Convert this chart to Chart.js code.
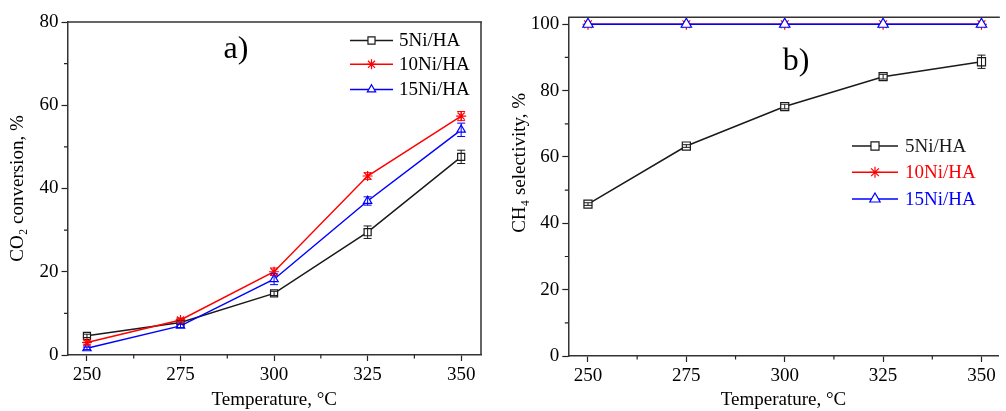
<!DOCTYPE html>
<html><head><meta charset="utf-8">
<script src="https://cdn.jsdelivr.net/npm/chart.js@4.4.1/dist/chart.umd.min.js"></script>
<style>
html,body{margin:0;padding:0;background:#fff;width:1006px;height:411px;overflow:hidden}
#wa{position:absolute;left:0;top:0;width:500px;height:411px}
#wb{position:absolute;left:500px;top:0;width:506px;height:411px}
</style></head><body>
<div id="wa"><canvas id="ca"></canvas></div>
<div id="wb"><canvas id="cb"></canvas></div>
<script>
// ---- data ----
const temperatures = [250, 275, 300, 325, 350];
const seriesNames = ['5Ni/HA', '10Ni/HA', '15Ni/HA'];
const conv5  = [4.6, 7.8, 14.8, 29.5, 47.6];
const conv10 = [3.0, 8.4, 20.0, 43.0, 57.4];
const conv15 = [1.6, 7.0, 18.2, 37.0, 54.1];
const convErr5  = [0.4, 0.4, 0.5, 1.5, 1.6];
const convErr10 = [0.4, 0.5, 0.9, 0.8, 1.1];
const convErr15 = [0.3, 0.4, 1.3, 1.0, 1.6];
const sel5  = [45.8, 63.3, 75.2, 84.2, 88.7];
const sel10 = [100, 100, 100, 100, 100];
const sel15 = [100, 100, 100, 100, 100];
const selErr5 = [0.4, 0.4, 0.7, 0.7, 2.0];
const xTicks = [250, 275, 300, 325, 350];
const xMinorTicks = [262.5, 287.5, 312.5, 337.5];
const convTicks = [0, 20, 40, 60, 80];
const convMinorTicks = [10, 30, 50, 70];
const selTicks = [0, 20, 40, 60, 80, 100];
const selMinorTicks = [10, 30, 50, 70, 90];

const FONT = "'Liberation Serif', 'DejaVu Serif', serif";
const colors = ['#1a1a1a', '#ff0000', '#0000ff'];
const styles = ['rect', 'star', 'triangle'];

function pts(arr) { return temperatures.map((t, i) => ({x: t, y: arr[i]})); }

const decor = {
  id: 'decor',
  afterDatasetsDraw(chart, args, o) {
    const {ctx, chartArea: a, scales: {x, y}} = chart;
    ctx.save();
    // error bars
    chart.data.datasets.forEach(ds => {
      if (!ds.errors) return;
      ctx.strokeStyle = ds.borderColor; ctx.lineWidth = 1;
      ds.data.forEach((p, j) => {
        const e = ds.errors[j]; if (!e) return;
        const px = x.getPixelForValue(p.x);
        const y1 = y.getPixelForValue(p.y - e), y2 = y.getPixelForValue(p.y + e);
        ctx.beginPath();
        ctx.moveTo(px, y1); ctx.lineTo(px, y2);
        ctx.moveTo(px - 4, y1); ctx.lineTo(px + 4, y1);
        ctx.moveTo(px - 4, y2); ctx.lineTo(px + 4, y2);
        ctx.stroke();
      });
    });
    // frame
    ctx.strokeStyle = '#333'; ctx.lineWidth = 1.5;
    ctx.beginPath();
    ctx.moveTo(a.left, a.top); ctx.lineTo(a.right + 1, a.top);
    if (o.rightBorder) { ctx.moveTo(a.right, a.top); ctx.lineTo(a.right, a.bottom); }
    ctx.stroke();
    // minor ticks
    ctx.lineWidth = 1.2; ctx.strokeStyle = '#222';
    ctx.beginPath();
    o.xMinor.forEach(v => { const px = x.getPixelForValue(v); ctx.moveTo(px, a.bottom); ctx.lineTo(px, a.bottom + 3.5); });
    o.yMinor.forEach(v => { const py = y.getPixelForValue(v); ctx.moveTo(a.left, py); ctx.lineTo(a.left - 3.5, py); });
    ctx.stroke();
    // legend
    const L = o.legend;
    chart.data.datasets.forEach((ds, i) => {
      const ly = L.y[i];
      ctx.strokeStyle = ds.borderColor; ctx.lineWidth = 1.5;
      ctx.beginPath(); ctx.moveTo(L.x0, ly); ctx.lineTo(L.x1, ly); ctx.stroke();
      ctx.fillStyle = '#fff'; ctx.strokeStyle = ds.borderColor; ctx.lineWidth = 1.2;
      Chart.helpers.drawPoint(ctx, {pointStyle: ds.pointStyle, radius: ds.pointRadius, rotation: 0, borderWidth: 1.2}, (L.x0 + L.x1) / 2, ly);
      ctx.fillStyle = L.colored ? ds.borderColor : '#000';
      ctx.font = '19px ' + FONT; ctx.textBaseline = 'middle'; ctx.textAlign = 'left';
      ctx.fillText(ds.label, L.tx, ly + 1);
    });
    // panel label
    ctx.fillStyle = '#000'; ctx.font = '32px ' + FONT; ctx.textAlign = 'center'; ctx.textBaseline = 'middle';
    ctx.fillText(o.label.text, o.label.x, o.label.y);
    ctx.restore();
  }
};

function makeChart(id, cfg) {
  const datasets = cfg.series.map((arr, i) => ({
    label: seriesNames[i],
    data: pts(arr),
    errors: cfg.errors[i],
    borderColor: colors[i],
    borderWidth: 1.5,
    pointStyle: styles[i],
    pointRadius: cfg.radii[i],
    pointBackgroundColor: '#fff',
    pointBorderColor: colors[i],
    pointBorderWidth: 1.2,
    order: cfg.orders[i],
    clip: false,
    tension: 0
  }));
  return new Chart(document.getElementById(id), {
    type: 'line',
    data: {datasets},
    plugins: [decor],
    options: {
      responsive: true, maintainAspectRatio: false, animation: false,
      layout: {padding: cfg.padding},
      plugins: {
        legend: {display: false}, tooltip: {enabled: false},
        decor: cfg.decor
      },
      scales: {
        x: {
          type: 'linear', min: cfg.xMin, max: cfg.xMax,
          afterBuildTicks: s => { s.ticks = xTicks.map(v => ({value: v})); },
          afterFit: s => { s.height = cfg.xHeight; s.paddingLeft = 0; s.paddingRight = 0; },
          ticks: {font: {family: FONT, size: 19}, color: '#000', padding: 3, maxRotation: 0, autoSkip: false},
          grid: {drawOnChartArea: false, drawTicks: true, tickLength: 6, tickColor: '#222', tickWidth: 1.2},
          border: {color: '#333', width: 1.5},
          title: {display: true, text: 'Temperature, °C', font: {family: FONT, size: 19}, color: '#000', padding: {top: 0, bottom: 0}}
        },
        y: {
          type: 'linear', min: cfg.yMin, max: cfg.yMax,
          afterBuildTicks: s => { s.ticks = cfg.yTicks.map(v => ({value: v})); },
          afterFit: s => { s.width = cfg.yWidth; s.paddingTop = 0; s.paddingBottom = 0; },
          ticks: {font: {family: FONT, size: 19}, color: '#000', padding: 3, autoSkip: false},
          grid: {drawOnChartArea: false, drawTicks: true, tickLength: 6, tickColor: '#222', tickWidth: 1.2},
          border: {color: '#333', width: 1.5},
          title: {display: true, text: cfg.yTitle, font: {family: FONT, size: 19}, color: '#000', padding: {top: cfg.yTitlePad, bottom: 0}}
        }
      }
    }
  });
}

makeChart('ca', {
  series: [conv5, conv10, conv15],
  errors: [convErr5, convErr10, convErr15],
  radii: [5, 5, 4.8],
  orders: [2, 0, 1],
  padding: {left: 0, top: 22, right: 19, bottom: 0},
  xMin: 244.8, xMax: 355.3, xHeight: 56,
  yMin: 0, yMax: 80, yTicks: convTicks, yWidth: 67.5,
  yTitle: 'CO₂ conversion, %', yTitlePad: 6.5,
  decor: {
    rightBorder: true, xMinor: xMinorTicks, yMinor: convMinorTicks,
    legend: {x0: 350, x1: 393, tx: 399, y: [40.5, 64.3, 89.5], colored: false},
    label: {text: 'a)', x: 236, y: 50}
  }
});

makeChart('cb', {
  series: [sel5, sel10, sel15],
  errors: [selErr5, null, null],
  radii: [5.7, 5.5, 6],
  orders: [2, 1, 0],
  padding: {left: 0, top: 17.3, right: 0, bottom: 0},
  xMin: 245, xMax: 354.4, xHeight: 55,
  yMin: 0, yMax: 102.1, yTicks: selTicks, yWidth: 68.3,
  yTitle: '\u00A0'.repeat(10) + 'CH₄ selectivity, %', yTitlePad: 9,
  decor: {
    rightBorder: false, xMinor: xMinorTicks, yMinor: selMinorTicks,
    legend: {x0: 352, x1: 398, tx: 405, y: [146, 172.3, 199], colored: true},
    label: {text: 'b)', x: 296, y: 62}
  }
});
</script>
</body></html>
